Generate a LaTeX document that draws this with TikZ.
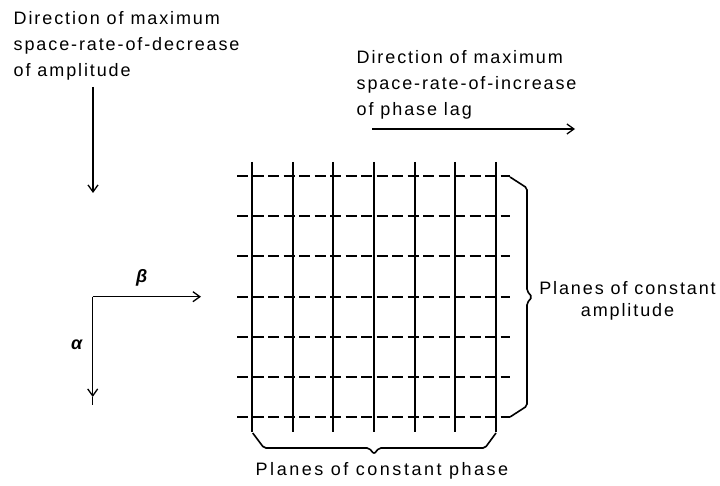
\documentclass[tikz,border=0pt]{standalone}
\usepackage{fontspec}
\setmainfont{Liberation Sans}[LetterSpace=10.5]
\usetikzlibrary{arrows.meta}
\begin{document}
\begin{tikzpicture}[x=1pt,y=-1pt,
  lbl/.style={inner sep=0pt, font=\fontsize{18}{26}\selectfont},
  gridv/.style={line width=1.8pt},
  gridh/.style={line width=1.8pt, dash pattern=on 11pt off 4.5pt},
  bracestyle/.style={line width=1.6pt, rounded corners=2pt},
  tipstyle/.style={-{Straight Barb[length=7pt,width=10pt,line width=1.3pt]}},
  arr/.style={line width=1.3pt, tipstyle}
]
\useasboundingbox (0,0) rectangle (720,486);

% grid
\foreach \x in {252,293,333,374,415,455,496}
  \draw[gridv] (\x,162) -- (\x,432);
\foreach \y in {176,216,256,297,337,377,417}
  \draw[gridh] (237,\y) -- (510,\y);

% braces
\draw[bracestyle] (510,177) -- (527,188) -- (527,291) -- (532,297) -- (527,303) -- (527,406) -- (510,417);
\draw[bracestyle] (252.7,433) -- (264,448) -- (369,448) -- (374,454) -- (379,448) -- (485,448) -- (496,433);

% texts
\node[lbl, anchor=north west, align=left] (t1) at (13.5,11.5)
  {Direction of maximum\\space-rate-of-decrease\\of amplitude};
\node[lbl, anchor=north west, align=left] (t2) at (356.5,50)
  {Direction of maximum\\space-rate-of-increase\\of phase lag};
\node[lbl, font=\fontsize{18}{22}\selectfont, anchor=north, align=center] (t3) at (627.5,281.5)
  {Planes of constant\\amplitude};
\node[lbl, font=\fontsize{18}{26}\selectfont\addfontfeature{LetterSpace=14}, anchor=base] (t4) at (382,475) {Planes of constant phase};

% direction arrows
\coordinate (d1s) at (93,87);
\coordinate (d1e) at (93,193);
\draw[arr] (d1s) -- (d1e);
\coordinate (d2s) at (372,129);
\coordinate (d2e) at (575,129);
\draw[arr] (d2s) -- (d2e);

% axes
\coordinate (o) at (92.7,296.7);
\coordinate (be) at (201,296.7);
\coordinate (ae) at (92.7,397);
\coordinate (ae2) at (92.7,405);
\draw[arr] (o) -- (be);
\draw[arr] (o) -- (ae);
\draw[line width=1.3pt] (ae) -- (ae2);
\node[lbl, font=\fontsize{18}{20}\selectfont\bfseries\itshape] (beta) at (141.7,278) {β};
\node[lbl, font=\fontsize{18}{20}\selectfont\bfseries\itshape] (alpha) at (76.7,345) {α};
\end{tikzpicture}
\end{document}
